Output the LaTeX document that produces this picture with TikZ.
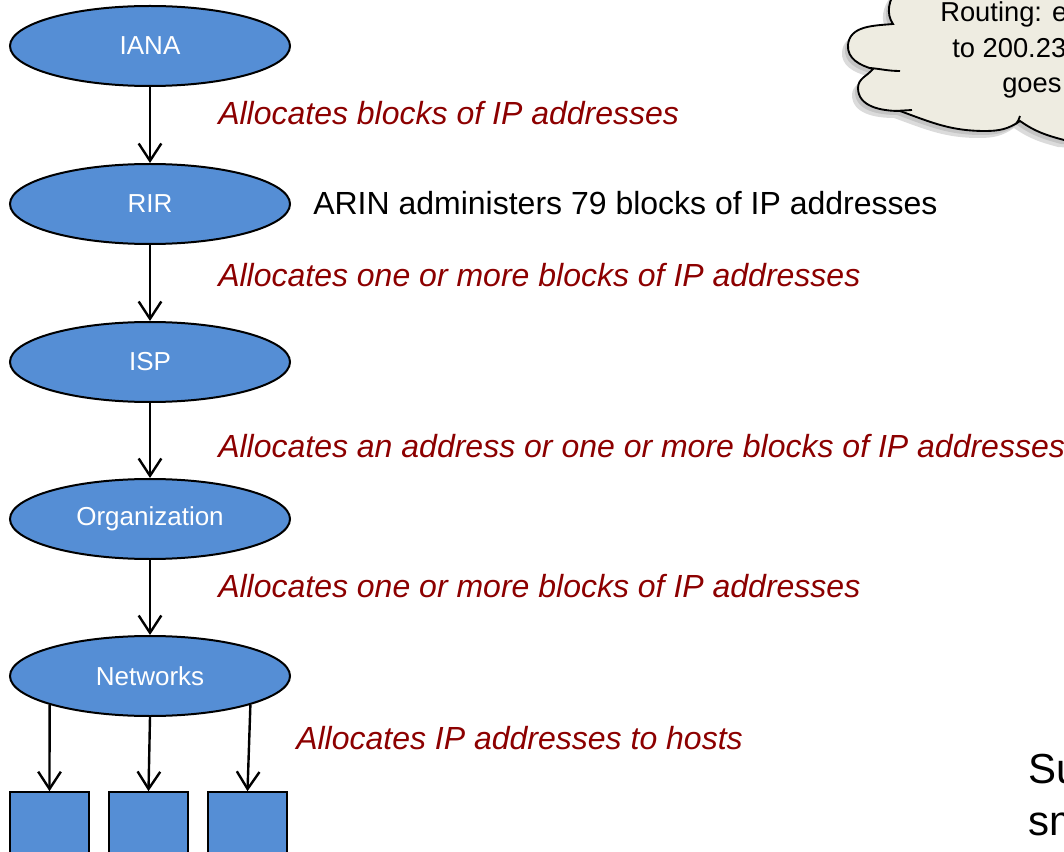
\documentclass[tikz,border=0pt]{standalone}
\usepackage{fontspec}
\setmainfont{Liberation Sans}
\usetikzlibrary{shapes.geometric,arrows.meta}
\definecolor{nodeblue}{RGB}{85,142,213}
\definecolor{allocred}{RGB}{140,0,0}
\definecolor{cloudtan}{RGB}{238,236,225}
\newcommand\cloudoutline{(898,-12) .. controls (888,0) and (886,14) .. (893,24)
   to[out=185,in=85] (848,45) to[out=265,in=165] (873,69)
   to[out=230,in=90] (858,88) to[out=270,in=180] (900,111)
   to[out=-20,in=180] (985,131) to[out=0,in=215] (1020,121)
   to[out=-35,in=165] (1064,140) -- (1110,143) -- (1110,-12) -- cycle}
\begin{document}
\begin{tikzpicture}[x=0.75pt,y=-0.75pt,
   registry/.style={ellipse,draw=black,line width=1.5pt,fill=nodeblue,text=white,
      minimum width=210pt,minimum height=60pt,inner sep=0pt,font=\fontsize{19.5}{22}\selectfont},
   host/.style={draw=black,line width=1.5pt,fill=nodeblue,minimum size=59pt,inner sep=0pt},
   alloc/.style={-{Straight Barb[length=13pt,width=17pt]},line width=1.8pt},
   note/.style={anchor=base west,inner sep=0pt,text=allocred,font=\fontsize{24}{28}\selectfont\itshape},
   fact/.style={anchor=base west,inner sep=0pt,font=\fontsize{24}{28}\selectfont}]
  \useasboundingbox (0,0) rectangle (1064,852);
  \clip (0,0) rectangle (1064,852);
  % cloud, cut by the page edge
  \fill[black!40,opacity=0.35,shift={(-6,7)}] \cloudoutline;
  \fill[black!40,opacity=0.35,shift={(-3,4)}] \cloudoutline;
  \filldraw[fill=cloudtan,draw=black,line width=1.4pt] \cloudoutline;
  \draw[line width=1.4pt] (870,68) to[out=-5,in=180] (900,71);
  \draw[line width=1.4pt] (895,111) -- (912,110);
  \draw[line width=1.4pt] (1016,124) to[out=60,in=260] (1020,116);
  \node[anchor=base west,inner sep=0pt,font=\fontsize{20.5}{24}\selectfont] (route1) at (940,22) {Routing: e};
  \node[anchor=base west,inner sep=0pt,font=\fontsize{20.5}{24}\selectfont] (route2) at (952,58) {to 200.23};
  \node[anchor=base west,inner sep=0pt,font=\fontsize{20.5}{24}\selectfont] (route3) at (1002,93) {goes};
  % hierarchy
  \node[registry] (iana) at (150,46) {IANA};
  \node[registry] (rir) at (150,204) {RIR};
  \node[registry] (isp) at (150,362) {ISP};
  \node[registry] (org) at (150,519) {Organization};
  \node[registry] (nets) at (150,676) {Networks};
  \node[host] (h1) at (49.5,831.5) {};
  \node[host] (h2) at (148.5,831.5) {};
  \node[host] (h3) at (247.5,831.5) {};
  \draw[alloc] (iana) -- (rir);
  \draw[alloc] (rir) -- (isp);
  \draw[alloc] (isp) -- (org);
  \draw[alloc] (org) -- (nets);
  \draw[alloc] (nets.196) -- (h1.north);
  \draw[alloc] (nets.south) -- (h2.north);
  \draw[alloc] (nets.-16) -- (h3.north);
  \node[note] (l1) at (218,125) {Allocates blocks of IP addresses};
  \node[fact] (arin) at (313,215) {ARIN administers 79 blocks of IP addresses};
  \node[note] (l2) at (218,287) {Allocates one or more blocks of IP addresses};
  \node[note] (l3) at (218,457) {Allocates an address or one or more blocks of IP addresses};
  \node[note] (l4) at (218,597) {Allocates one or more blocks of IP addresses};
  \node[note] (l5) at (296,749) {Allocates IP addresses to hosts};
  \node[anchor=base west,inner sep=0pt,font=\fontsize{31.5}{39}\selectfont] (sum1) at (1028,783) {Su};
  \node[anchor=base west,inner sep=0pt,font=\fontsize{31.5}{39}\selectfont] (sum2) at (1028,835) {sm};
\end{tikzpicture}
\end{document}
